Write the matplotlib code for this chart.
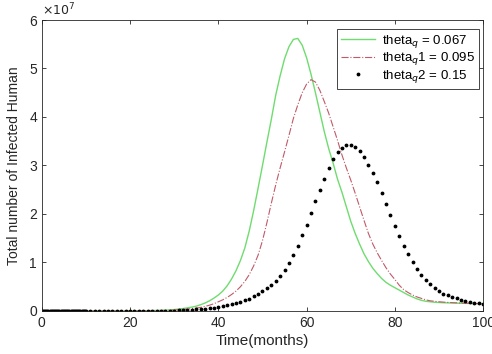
import numpy as np
import matplotlib
matplotlib.use('Agg')
import matplotlib.pyplot as plt

plt.rcParams['font.family'] = ['Liberation Sans', 'DejaVu Sans']

# time axis (months), values in units of 1e7
t_line = list(range(0, 101))

green = [0, 0, 0, 0, 0, 0, 0, 0, 0, 0,
         0, 0, 0, 0, 0, 0, 0, 0, 0, 0,
         0.002, 0.003, 0.004, 0.005, 0.006, 0.008, 0.010, 0.013, 0.017, 0.022,
         0.030, 0.040, 0.050, 0.065, 0.080, 0.10, 0.13, 0.165, 0.21, 0.265,
         0.33, 0.41, 0.52, 0.66, 0.83, 1.04, 1.30, 1.65, 2.07, 2.53,
         3.00, 3.48, 3.95, 4.45, 4.85, 5.20, 5.45, 5.60, 5.62, 5.48,
         5.22, 4.88, 4.50, 4.10, 3.70, 3.35, 3.05, 2.72, 2.45, 2.15,
         1.85, 1.60, 1.38, 1.18, 1.02, 0.88, 0.77, 0.67, 0.59, 0.53,
         0.48, 0.43, 0.38, 0.33, 0.29, 0.25, 0.22, 0.20, 0.19, 0.18,
         0.175, 0.17, 0.167, 0.164, 0.161, 0.159, 0.157, 0.155, 0.153, 0.151,
         0.15]

red = [0, 0, 0, 0, 0, 0, 0, 0, 0, 0,
       0, 0, 0, 0, 0, 0, 0, 0, 0, 0,
       0.001, 0.002, 0.003, 0.004, 0.005, 0.006, 0.008, 0.010, 0.012, 0.015,
       0.020, 0.025, 0.030, 0.040, 0.050, 0.060, 0.075, 0.095, 0.12, 0.15,
       0.19, 0.23, 0.28, 0.34, 0.41, 0.50, 0.61, 0.75, 0.93, 1.15,
       1.45, 1.82, 2.22, 2.60, 2.95, 3.28, 3.62, 3.97, 4.25, 4.50,
       4.68, 4.77, 4.72, 4.55, 4.32, 4.08, 3.80, 3.52, 3.22, 2.95,
       2.70, 2.43, 2.15, 1.87, 1.60, 1.38, 1.20, 1.04, 0.89, 0.76,
       0.65, 0.53, 0.44, 0.38, 0.33, 0.29, 0.26, 0.23, 0.21, 0.20,
       0.19, 0.183, 0.177, 0.172, 0.168, 0.164, 0.16, 0.157, 0.154, 0.152,
       0.15]

t_dot = list(range(0, 101))
black = [0, 0, 0, 0, 0, 0, 0, 0, 0, 0,
         0, 0, 0, 0, 0, 0, 0, 0, 0, 0,
         0.001, 0.001, 0.002, 0.002, 0.003, 0.003, 0.004, 0.005, 0.006, 0.008,
         0.010, 0.013, 0.016, 0.020, 0.025, 0.031, 0.038, 0.047, 0.057, 0.068,
         0.080, 0.10, 0.115, 0.135, 0.16, 0.19, 0.22, 0.25, 0.30, 0.36,
         0.42, 0.48, 0.54, 0.62, 0.72, 0.84, 0.98, 1.15, 1.35, 1.56,
         1.78, 2.02, 2.27, 2.50, 2.73, 2.94, 3.13, 3.27, 3.37, 3.42,
         3.43, 3.38, 3.30, 3.17, 3.02, 2.85, 2.66, 2.44, 2.21, 1.98,
         1.76, 1.55, 1.35, 1.17, 1.01, 0.87, 0.75, 0.64, 0.55, 0.47,
         0.41, 0.36, 0.32, 0.29, 0.26, 0.23, 0.21, 0.19, 0.175, 0.16,
         0.15]
# extra dense samples near the start (solver output)
t_start = [0.25, 0.5, 0.75, 1.25, 1.5, 1.75, 2.25, 2.5, 2.75, 3.25, 3.5, 3.75,
           4.25, 4.5, 4.75, 5.25, 5.5, 5.75, 6.25, 6.5, 6.75, 7.25, 7.5, 7.75,
           8.25, 8.5, 8.75, 9.25, 9.5, 9.75]
black_start = [0] * len(t_start)

labels = ['theta$_q$ = 0.067', 'theta$_q$1 = 0.095', 'theta$_q$2 = 0.15']

fig = plt.figure(figsize=(4.92, 3.54), dpi=100)
ax = fig.add_axes([0.085, 0.1215, 0.897, 0.822])

e = 1e7
ax.plot(t_line, np.array(green) * e, color='#6fdc6f', lw=1.0, label=labels[0])
ax.plot(t_line, np.array(red) * e, color='#c05a68', lw=0.8, ls='-.', label=labels[1])
ax.plot(t_dot + t_start, np.array(black + black_start) * e, ls='none', marker='.',
        color='black', ms=3.5, label=labels[2])

ax.set_xlim(0, 100)
ax.set_ylim(0, 6e7)
ax.set_xticks([0, 20, 40, 60, 80, 100])
ax.set_yticks(np.arange(0, 7) * 1e7)
ax.set_yticklabels([str(i) for i in range(7)])
ax.tick_params(direction='in', top=True, right=True, labelsize=10,
               colors='#262626', length=3, width=0.6)
for s in ax.spines.values():
    s.set_color('#262626')
    s.set_linewidth(0.6)
ax.text(0.0, 1.005, r'$\times10^7$', transform=ax.transAxes, fontsize=9,
        color='#262626', ha='left', va='bottom')

ax.set_xlabel('Time(months)', fontsize=11, color='#262626', labelpad=3)
ax.set_ylabel('Total number of Infected Human', fontsize=10, color='#262626', labelpad=6)

leg = ax.legend(loc='upper right', bbox_to_anchor=(0.99, 0.97), borderaxespad=0,
                fontsize=9.5, fancybox=False, framealpha=1,
                edgecolor='#262626', handlelength=2.6, borderpad=0.3,
                handletextpad=0.5, labelspacing=0.05)
leg.get_frame().set_linewidth(0.6)

fig.savefig('out.png', dpi=100)
